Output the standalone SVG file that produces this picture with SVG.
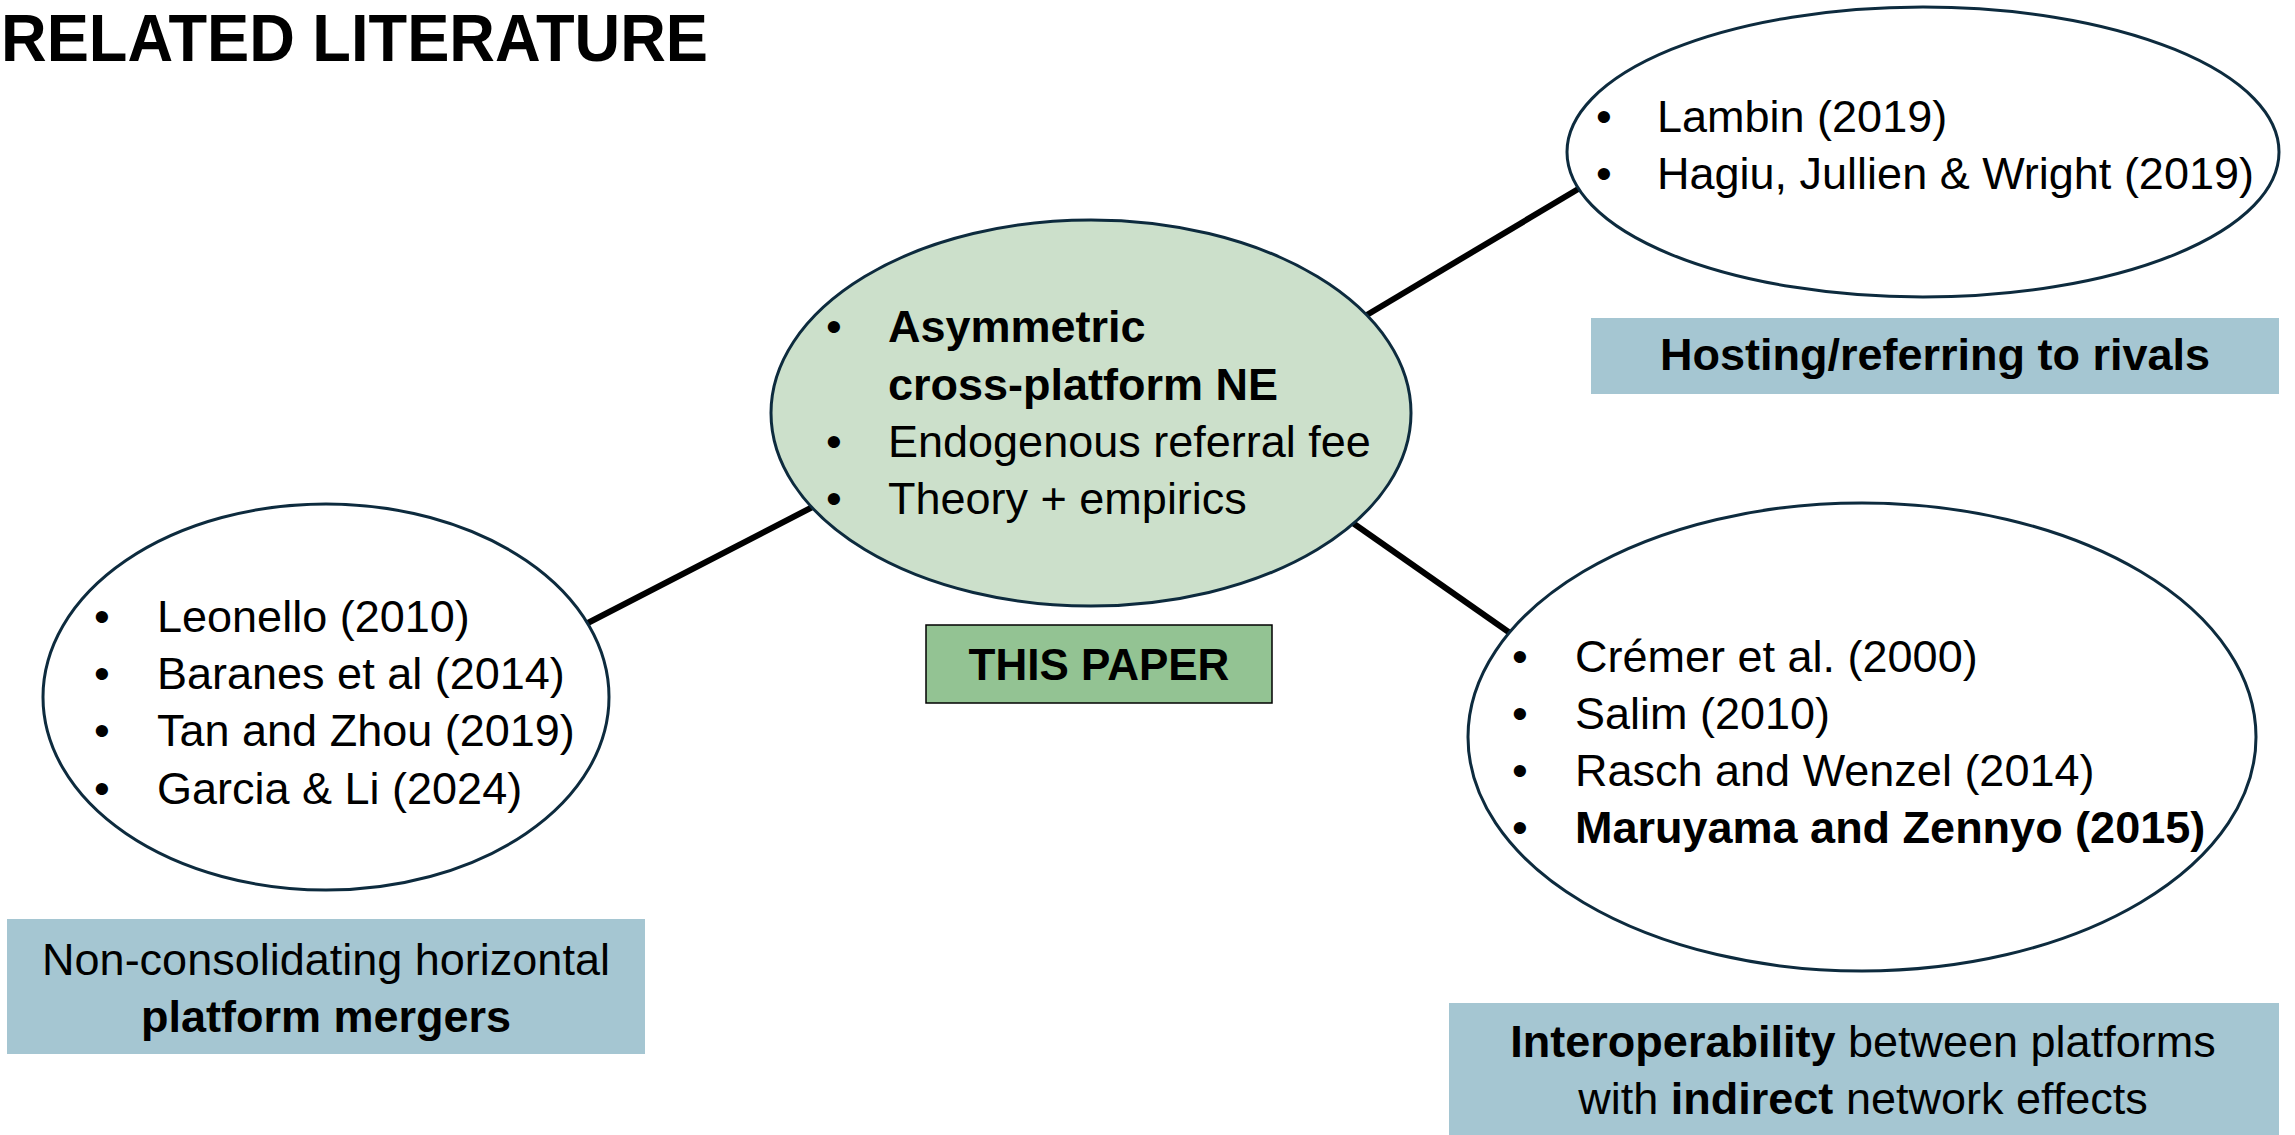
<svg xmlns="http://www.w3.org/2000/svg" width="2295" height="1135" viewBox="0 0 2295 1135">
<style>
text{font-family:"Liberation Sans",Arial,sans-serif;font-size:45px;fill:#000}
.b{font-weight:bold}
.ell{stroke:#0d2b3e;stroke-width:3}
.lbl{fill:#a5c6d2}
.conn line{stroke:#000;stroke-width:6}
</style>
<rect width="2295" height="1135" fill="#fff"/>
<text id="title" x="1" y="61" class="b" style="font-size:67px" textLength="707" lengthAdjust="spacingAndGlyphs">RELATED LITERATURE</text>
<g id="connectors" class="conn">
<line x1="1350" y1="325" x2="1590" y2="182"/>
<line x1="830" y1="498" x2="580" y2="627"/>
<line x1="1340" y1="514" x2="1520" y2="640"/>
</g>
<g id="this-paper">
<ellipse class="ell" cx="1091" cy="413" rx="320" ry="193" fill="#cce0cb"/>
<text x="826" y="342">•</text><text x="888" y="342" class="b">Asymmetric</text>
<text x="888" y="400" class="b">cross-platform NE</text>
<text x="826" y="457">•</text><text x="888" y="457">Endogenous referral fee</text>
<text x="826" y="514">•</text><text x="888" y="514">Theory + empirics</text>
</g>
<g id="this-paper-label">
<rect x="926" y="625" width="346" height="78" fill="#93c393" stroke="#000" stroke-width="1.5"/>
<text x="1099" y="680" class="b" text-anchor="middle" style="font-size:44px">THIS PAPER</text>
</g>
<g id="hosting">
<ellipse class="ell" cx="1923" cy="152" rx="356" ry="145" fill="#fff"/>
<text x="1596" y="132">•</text><text x="1657" y="132">Lambin (2019)</text>
<text x="1596" y="189">•</text><text x="1657" y="189">Hagiu, Jullien &amp; Wright (2019)</text>
</g>
<g id="hosting-label">
<rect class="lbl" x="1591" y="318" width="688" height="76"/>
<text x="1935" y="370" class="b" text-anchor="middle">Hosting/referring to rivals</text>
</g>
<g id="mergers">
<ellipse class="ell" cx="326" cy="697" rx="283" ry="193" fill="#fff"/>
<text x="94" y="632">•</text><text x="157" y="632">Leonello (2010)</text>
<text x="94" y="689">•</text><text x="157" y="689">Baranes et al (2014)</text>
<text x="94" y="746">•</text><text x="157" y="746">Tan and Zhou (2019)</text>
<text x="94" y="804">•</text><text x="157" y="804">Garcia &amp; Li (2024)</text>
</g>
<g id="mergers-label">
<rect class="lbl" x="7" y="919" width="638" height="135"/>
<text x="326" y="975" text-anchor="middle">Non-consolidating horizontal</text>
<text x="326" y="1032" text-anchor="middle" class="b">platform mergers</text>
</g>
<g id="interop">
<ellipse class="ell" cx="1862" cy="737" rx="394" ry="234" fill="#fff"/>
<text x="1512" y="672">•</text><text x="1575" y="672">Crémer et al. (2000)</text>
<text x="1512" y="729">•</text><text x="1575" y="729">Salim (2010)</text>
<text x="1512" y="786">•</text><text x="1575" y="786">Rasch and Wenzel (2014)</text>
<text x="1512" y="843">•</text><text x="1575" y="843" class="b">Maruyama and Zennyo (2015)</text>
</g>
<g id="interop-label">
<rect class="lbl" x="1449" y="1003" width="830" height="132"/>
<text x="1863" y="1057" text-anchor="middle"><tspan class="b">Interoperability</tspan> between platforms</text>
<text x="1863" y="1114" text-anchor="middle">with <tspan class="b">indirect</tspan> network effects</text>
</g>
</svg>
